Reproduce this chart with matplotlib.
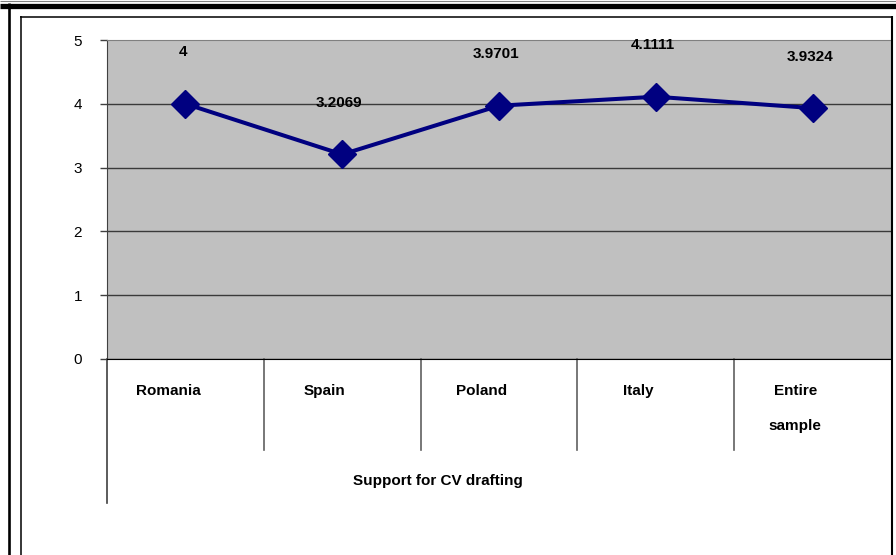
import matplotlib
matplotlib.use("Agg")
import matplotlib.pyplot as plt
from matplotlib.lines import Line2D
import matplotlib.transforms as mtransforms

plt.rcParams['font.family'] = ['Liberation Sans', 'DejaVu Sans']

# data
countries = ["Romania", "Spain", "Poland", "Italy", "Entire\nsample"]
scores = [4.0, 3.2069, 3.9701, 4.1111, 3.9324]
score_labels = ["4", "3.2069", "3.9701", "4.1111", "3.9324"]
group_title = "Support for CV drafting"
y_ticks = [0, 1, 2, 3, 4, 5]

W, H = 896, 555
fig = plt.figure(figsize=(W / 100, H / 100), dpi=100)


def px(x, y):
    # pixel coords (origin top-left) -> figure fraction
    return x / W, 1 - y / H


# plot area
x0, y0 = px(107, 359)
x1, y1 = px(891, 40)
ax = fig.add_axes([x0, y0, x1 - x0, y1 - y0])
ax.set_facecolor("#c0c0c0")

xs = list(range(len(countries)))
ax.plot(xs, scores, color="#000080", lw=2.9, marker="D", ms=14,
        mec="#000080", mfc="#000080", zorder=3)

for x, v, lab in zip(xs, scores, score_labels):
    ax.annotate(lab, (x, v), xytext=(-2, 37), textcoords="offset points",
                ha="center", va="center", fontsize=11, fontweight="bold")

ax.set_xlim(-0.5, len(countries) - 0.5)
ax.set_ylim(0, 5)
ax.set_yticks(y_ticks)
ax.set_yticklabels([str(t) for t in y_ticks], fontsize=11)
ax.tick_params(axis="y", length=5, width=1, color="#404040", pad=13)
ax.set_xticks([])

ax.yaxis.grid(True, color="#3a3a3a", lw=1)
ax.set_axisbelow(True)
ax.get_ygridlines()[-1].set_visible(False)

ax.spines["top"].set_color("#808080")
ax.spines["right"].set_visible(False)
ax.spines["bottom"].set_color("black")
ax.spines["left"].set_color("#404040")

# category axis: labels, separators, group title
trans = mtransforms.blended_transform_factory(ax.transData, ax.transAxes)
for x, name in zip(xs, countries):
    ax.text(x - 0.11, -0.077, name, transform=trans, ha="center", va="top",
            fontsize=11, fontweight="bold", linespacing=2.95)
for x in xs[:-1]:
    ax.plot([x + 0.5, x + 0.5], [0, -0.285], transform=trans, color="#606060",
            lw=1.2, clip_on=False)
ax.plot([-0.5, -0.5], [0, -0.451], transform=trans, color="#404040",
        lw=1.2, clip_on=False)
ax.text(0.422, -0.382, group_title, transform=ax.transAxes, ha="center",
        va="center", fontsize=11, fontweight="bold")

# page frame lines
def fline(xa, ya, xb, yb, lw, color="black"):
    (fx0, fy0), (fx1, fy1) = px(xa, ya), px(xb, yb)
    fig.add_artist(Line2D([fx0, fx1], [fy0, fy1], transform=fig.transFigure,
                          lw=lw, color=color, solid_capstyle="butt"))

fline(0, 0.8, W, 0.8, 0.8, "#808080")
fline(0, 5.5, W, 5.5, 3.8)
fline(8.5, 3, 8.5, H, 1.9)
fline(20.5, 16, 20.5, H, 1.1)
fline(20, 16.5, 892, 16.5, 1.1)
fline(891.5, 16, 891.5, H, 1.5)

fig.savefig("out.png", dpi=100)
